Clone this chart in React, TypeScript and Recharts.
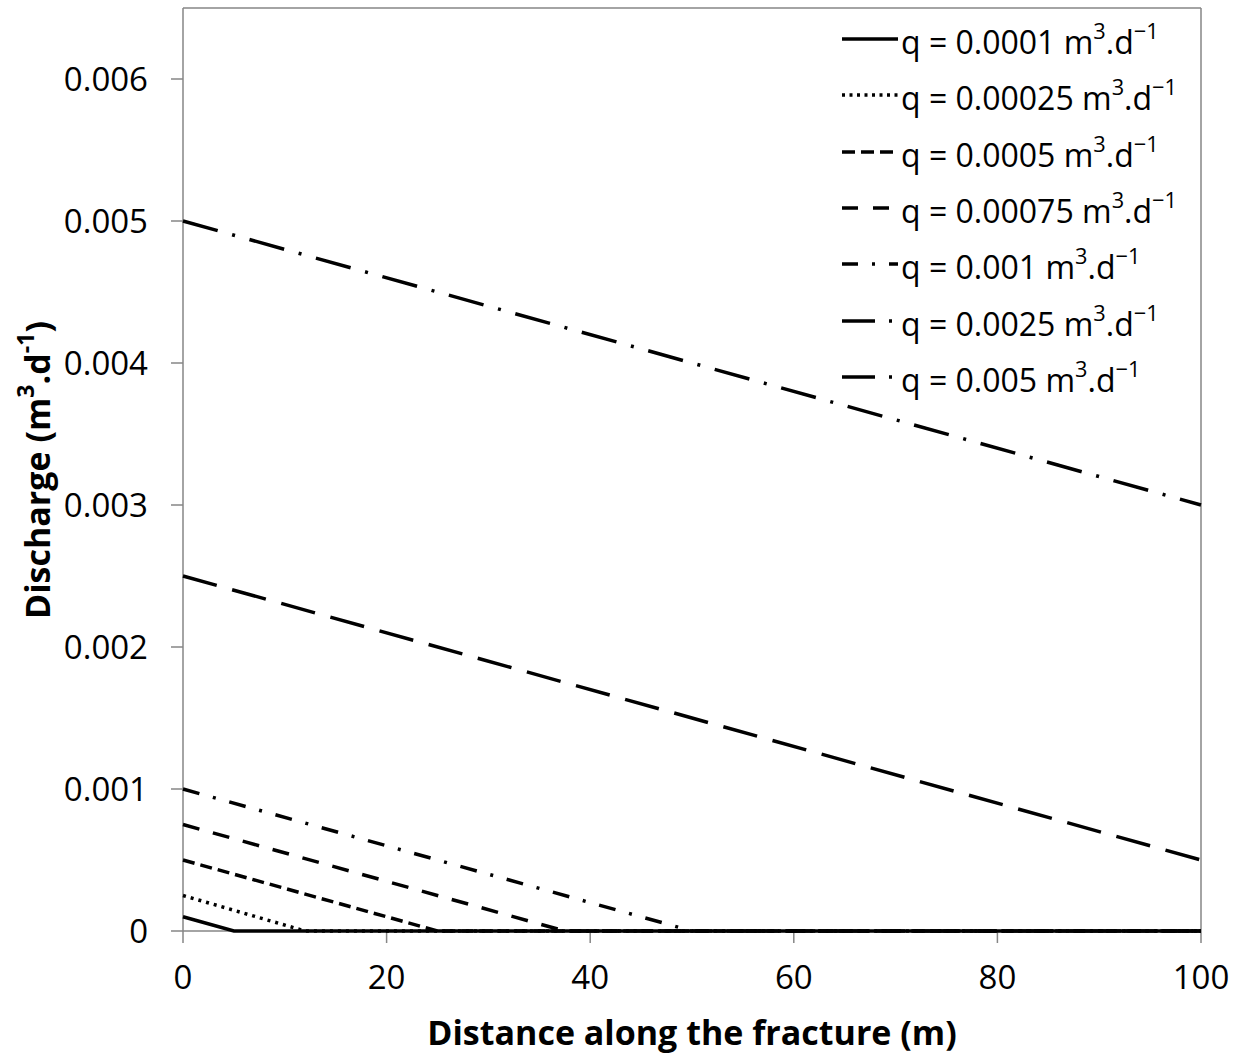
import { LineChart, Line, XAxis, YAxis, ReferenceLine } from 'recharts';

// distance (m) and discharge (m3/d)
const q0001 = [
  { d: 0, v: 0.0001 },
  { d: 5, v: 0 },
  { d: 100, v: 0 },
];
const q00025 = [
  { d: 0, v: 0.00025 },
  { d: 12, v: 0 },
  { d: 100, v: 0 },
];
const q0005 = [
  { d: 0, v: 0.0005 },
  { d: 25, v: 0 },
  { d: 100, v: 0 },
];
const q00075 = [
  { d: 0, v: 0.00075 },
  { d: 37.5, v: 0 },
  { d: 100, v: 0 },
];
const q001 = [
  { d: 0, v: 0.001 },
  { d: 50, v: 0 },
  { d: 100, v: 0 },
];
const q0025 = [
  { d: 0, v: 0.0025 },
  { d: 100, v: 0.0005 },
];
const q005 = [
  { d: 0, v: 0.005 },
  { d: 100, v: 0.003 },
];

const xTicks = [0, 20, 40, 60, 80, 100];
const yTicks = [0, 0.001, 0.002, 0.003, 0.004, 0.005, 0.006];

const seriesLabels = ['0.0001', '0.00025', '0.0005', '0.00075', '0.001', '0.0025', '0.005'];

const series = [
  { data: q0001, dash: undefined, legendDash: undefined },
  { data: q00025, dash: '3 5', legendDash: '3 4.5' },
  { data: q0005, dash: '12 6', legendDash: '13 6' },
  { data: q00075, dash: '17 14', legendDash: '16 15' },
  { data: q001, dash: '17 14 3 14', legendDash: '16 14 3 14' },
  { data: q0025, dash: '35 16', legendDash: '33 14 3 14' },
  { data: q005, dash: '36 15 3 15', legendDash: '33 14 3 14' },
];

const AXIS_GREY = '#868686';
const FONT = "'Open Sans', sans-serif";

const formatY = (v: number) => (v === 0 ? '0' : v.toFixed(3));

const supStyle = { fontSize: '0.68em', verticalAlign: '0.7em' };

function LegendBox() {
  return (
    <div style={{ position: 'absolute', left: 838, top: 11 }}>
      {series.map((s, i) => (
        <div key={i} style={{ display: 'flex', alignItems: 'center', height: 56.3 }}>
          <svg width={62} height={10} style={{ marginRight: 1 }}>
            <line
              x1={4}
              y1={5}
              x2={60}
              y2={5}
              stroke="#000"
              strokeWidth={3.5}
              strokeDasharray={s.legendDash}
            />
          </svg>
          <span style={{ fontSize: 32, whiteSpace: 'nowrap', lineHeight: 1 }}>
            q = {seriesLabels[i]} m<sup style={supStyle}>3</sup>.d
            <sup style={supStyle}>−1</sup>
          </span>
        </div>
      ))}
    </div>
  );
}

export default function App() {
  return (
    <div
      style={{
        position: 'absolute',
        left: 0,
        top: 0,
        width: 1240,
        height: 1059,
        background: '#fff',
        fontFamily: FONT,
        color: '#000',
      }}
    >
      <LineChart width={1240} height={1059} margin={{ top: 8, right: 39, left: 0, bottom: 0 }}>
        <XAxis
          dataKey="d"
          type="number"
          domain={[0, 100]}
          ticks={xTicks}
          height={128}
          tickSize={12}
          tickMargin={23}
          axisLine={{ stroke: AXIS_GREY, strokeWidth: 1.5 }}
          tickLine={{ stroke: AXIS_GREY, strokeWidth: 1.5 }}
          tick={{ fill: '#000', fontSize: 33, fontFamily: FONT }}
        />
        <YAxis
          type="number"
          domain={[0, 0.0065]}
          ticks={yTicks}
          width={183}
          tickSize={12}
          tickMargin={23}
          tickFormatter={formatY}
          axisLine={{ stroke: AXIS_GREY, strokeWidth: 1.5 }}
          tickLine={{ stroke: AXIS_GREY, strokeWidth: 1.5 }}
          tick={{ fill: '#000', fontSize: 33, fontFamily: FONT }}
        />
        <ReferenceLine y={0.0065} stroke={AXIS_GREY} strokeWidth={1.5} />
        <ReferenceLine x={100} stroke={AXIS_GREY} strokeWidth={1.5} />
        {series.map((s, i) => (
          <Line
            key={i}
            data={s.data}
            dataKey="v"
            type="linear"
            stroke="#000"
            strokeWidth={3.5}
            strokeDasharray={s.dash}
            dot={false}
            activeDot={false}
            isAnimationActive={false}
            zIndex={700}
          />
        ))}
      </LineChart>

      <LegendBox />

      <div
        style={{
          position: 'absolute',
          left: 183,
          width: 1018,
          top: 1010,
          textAlign: 'center',
          fontSize: 34,
          fontWeight: 'bold',
          lineHeight: 1.3,
          whiteSpace: 'nowrap',
        }}
      >
        Distance along the fracture (m)
      </div>

      <div
        style={{
          position: 'absolute',
          left: 35,
          top: 470,
          transform: 'translate(-50%, -50%) rotate(-90deg)',
          fontSize: 34,
          fontWeight: 'bold',
          lineHeight: 1.3,
          whiteSpace: 'nowrap',
        }}
      >
        Discharge (m<sup style={supStyle}>3</sup>.d<sup style={supStyle}>-1</sup>)
      </div>
    </div>
  );
}
